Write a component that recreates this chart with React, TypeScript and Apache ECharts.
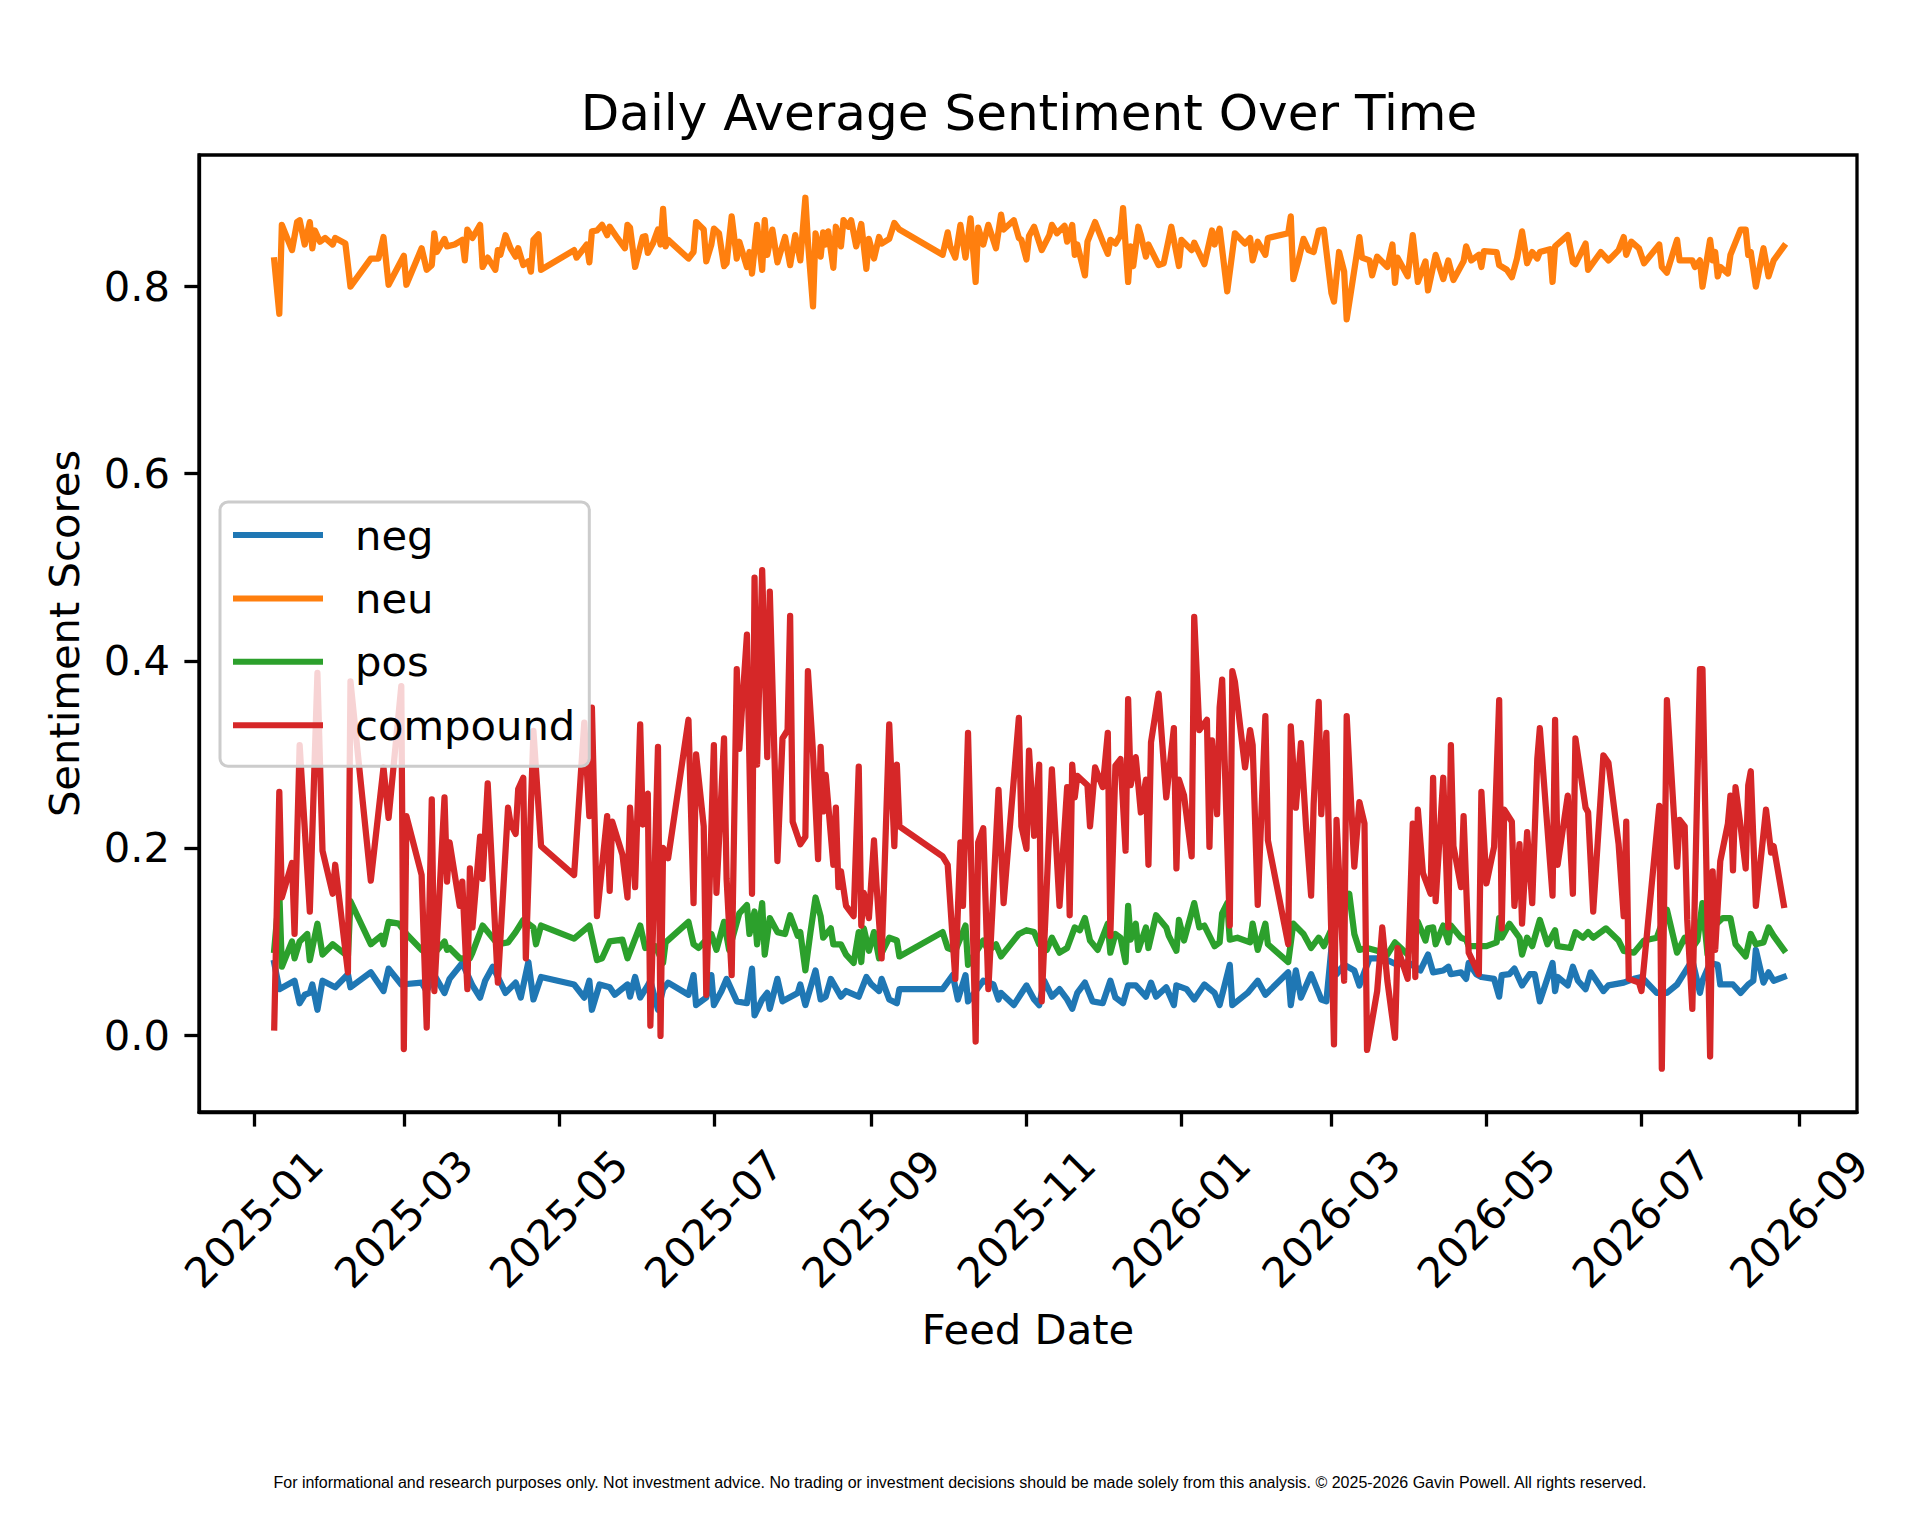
import React, { useEffect, useRef } from 'react';
import * as echarts from 'echarts';

// x values are days after 2025-01-01, y values are the daily average scores
const negPoints: [number, number][] = [
  [8, 0.077], [10, 0.049], [16, 0.058], [18, 0.034], [20, 0.043], [22, 0.045], [23, 0.054], [25, 0.027],
  [27, 0.058], [32, 0.051], [37, 0.065], [38, 0.051], [46, 0.067], [51, 0.047], [53, 0.071], [58, 0.054],
  [66, 0.056], [68, 0.047], [71, 0.064], [75, 0.045], [77, 0.06], [82, 0.077], [86, 0.053], [89, 0.04],
  [91, 0.058], [94, 0.073], [99, 0.045], [103, 0.056], [105, 0.04], [108, 0.078], [110, 0.038], [113, 0.062],
  [126, 0.054], [130, 0.04], [132, 0.058], [133, 0.027], [136, 0.054], [140, 0.051], [142, 0.043], [147, 0.054],
  [148, 0.041], [150, 0.062], [152, 0.04], [155, 0.053], [156, 0.058], [159, 0.027], [161, 0.049], [163, 0.056],
  [171, 0.043], [173, 0.064], [174, 0.032], [178, 0.04], [180, 0.064], [181, 0.032], [184, 0.047], [186, 0.06],
  [190, 0.036], [194, 0.034], [196, 0.071], [197, 0.021], [200, 0.038], [202, 0.045], [203, 0.028], [206, 0.06],
  [208, 0.036], [214, 0.045], [215, 0.054], [217, 0.032], [221, 0.069], [223, 0.038], [225, 0.041], [227, 0.06],
  [231, 0.041], [233, 0.047], [238, 0.041], [241, 0.062], [243, 0.054], [246, 0.047], [247, 0.06], [250, 0.038],
  [253, 0.034], [254, 0.049], [271, 0.049], [275, 0.064], [277, 0.038], [280, 0.064], [281, 0.036], [284, 0.047],
  [287, 0.058], [291, 0.054], [293, 0.038], [294, 0.045], [299, 0.032], [304, 0.053], [307, 0.038], [309, 0.032],
  [311, 0.058], [314, 0.041], [317, 0.049], [320, 0.038], [322, 0.028], [324, 0.045], [327, 0.056], [330, 0.036],
  [334, 0.034], [337, 0.058], [339, 0.04], [342, 0.034], [344, 0.053], [347, 0.053], [351, 0.041], [353, 0.056],
  [355, 0.041], [359, 0.051], [362, 0.032], [363, 0.053], [367, 0.049], [370, 0.038], [374, 0.054], [378, 0.045],
  [380, 0.032], [384, 0.075], [385, 0.032], [391, 0.045], [395, 0.058], [398, 0.043], [407, 0.067], [408, 0.032],
  [410, 0.069], [412, 0.04], [416, 0.065], [420, 0.038], [422, 0.036], [424, 0.093], [426, 0.065], [429, 0.075],
  [433, 0.069], [435, 0.053], [439, 0.082], [442, 0.082], [446, 0.08], [450, 0.075], [454, 0.078], [459, 0.069],
  [462, 0.086], [464, 0.067], [468, 0.069], [470, 0.073], [471, 0.065], [475, 0.067], [477, 0.06], [478, 0.077],
  [481, 0.065], [483, 0.062], [488, 0.06], [490, 0.041], [491, 0.064], [494, 0.065], [496, 0.071], [499, 0.053],
  [502, 0.065], [504, 0.065], [506, 0.036], [511, 0.077], [512, 0.047], [513, 0.062], [517, 0.053], [519, 0.073],
  [521, 0.058], [524, 0.049], [526, 0.067], [531, 0.047], [533, 0.053], [539, 0.056], [543, 0.06], [546, 0.062],
  [552, 0.045], [556, 0.045], [560, 0.054], [563, 0.067], [566, 0.08], [569, 0.045], [570, 0.058], [573, 0.077],
  [576, 0.075], [577, 0.054], [582, 0.054], [585, 0.045], [588, 0.054], [590, 0.058], [591, 0.091], [594, 0.056],
  [596, 0.067], [598, 0.058], [602, 0.062]
];

const neuPoints: [number, number][] = [
  [8, 0.828], [10, 0.771], [11, 0.866], [15, 0.839], [17, 0.869], [18, 0.871], [20, 0.845], [22, 0.869],
  [23, 0.841], [24, 0.86], [26, 0.848], [28, 0.852], [31, 0.845], [32, 0.852], [36, 0.846], [38, 0.8],
  [46, 0.83], [49, 0.83], [51, 0.853], [53, 0.802], [59, 0.833], [60, 0.802], [66, 0.841], [68, 0.818],
  [70, 0.823], [71, 0.857], [72, 0.837], [75, 0.851], [76, 0.843], [79, 0.845], [82, 0.85], [83, 0.828],
  [84, 0.861], [86, 0.852], [89, 0.866], [90, 0.821], [92, 0.831], [95, 0.818], [96, 0.839], [97, 0.834],
  [99, 0.855], [101, 0.841], [103, 0.832], [104, 0.841], [106, 0.823], [108, 0.827], [109, 0.816], [110, 0.85],
  [112, 0.856], [113, 0.818], [126, 0.839], [127, 0.831], [131, 0.845], [132, 0.826], [133, 0.859], [135, 0.86],
  [137, 0.866], [139, 0.855], [140, 0.864], [143, 0.852], [146, 0.841], [147, 0.866], [148, 0.863], [150, 0.821],
  [153, 0.853], [154, 0.854], [155, 0.836], [157, 0.846], [159, 0.861], [160, 0.845], [161, 0.883], [162, 0.843],
  [163, 0.85], [171, 0.83], [173, 0.837], [174, 0.869], [177, 0.861], [178, 0.827], [180, 0.845], [181, 0.862],
  [183, 0.857], [185, 0.822], [186, 0.825], [188, 0.875], [190, 0.83], [191, 0.848], [194, 0.821], [195, 0.837],
  [196, 0.814], [198, 0.866], [200, 0.818], [201, 0.871], [202, 0.834], [204, 0.861], [206, 0.826], [209, 0.853],
  [211, 0.823], [213, 0.855], [215, 0.828], [217, 0.895], [218, 0.848], [220, 0.779], [221, 0.857], [223, 0.832],
  [224, 0.858], [225, 0.845], [226, 0.859], [228, 0.82], [229, 0.864], [231, 0.843], [232, 0.871], [234, 0.864],
  [235, 0.871], [237, 0.843], [239, 0.867], [241, 0.819], [242, 0.851], [244, 0.83], [246, 0.853], [247, 0.846],
  [250, 0.851], [252, 0.868], [254, 0.861], [271, 0.834], [273, 0.858], [274, 0.843], [276, 0.831], [278, 0.866],
  [280, 0.831], [282, 0.873], [284, 0.805], [285, 0.863], [287, 0.845], [289, 0.866], [292, 0.841], [294, 0.877],
  [295, 0.861], [299, 0.871], [301, 0.852], [302, 0.85], [304, 0.829], [305, 0.854], [307, 0.864], [310, 0.839],
  [313, 0.855], [314, 0.866], [316, 0.857], [319, 0.865], [320, 0.848], [322, 0.866], [323, 0.834], [324, 0.845],
  [327, 0.812], [328, 0.848], [331, 0.869], [334, 0.848], [336, 0.835], [337, 0.85], [339, 0.846], [341, 0.855],
  [342, 0.884], [344, 0.805], [345, 0.843], [346, 0.822], [348, 0.864], [349, 0.855], [351, 0.832], [352, 0.845],
  [356, 0.823], [358, 0.825], [361, 0.864], [364, 0.822], [365, 0.85], [369, 0.839], [370, 0.847], [374, 0.824],
  [377, 0.86], [378, 0.845], [380, 0.862], [383, 0.795], [386, 0.857], [390, 0.846], [392, 0.852], [393, 0.828],
  [395, 0.848], [398, 0.834], [399, 0.852], [407, 0.857], [408, 0.875], [409, 0.808], [411, 0.828], [413, 0.851],
  [415, 0.839], [417, 0.837], [419, 0.86], [421, 0.861], [424, 0.793], [425, 0.784], [427, 0.837], [429, 0.816],
  [430, 0.765], [435, 0.853], [436, 0.831], [439, 0.828], [440, 0.812], [442, 0.832], [446, 0.821], [448, 0.845],
  [449, 0.804], [450, 0.831], [454, 0.811], [456, 0.855], [458, 0.805], [461, 0.827], [462, 0.796], [465, 0.834],
  [468, 0.808], [470, 0.828], [472, 0.807], [476, 0.827], [477, 0.843], [479, 0.828], [482, 0.834], [483, 0.821],
  [484, 0.838], [489, 0.837], [490, 0.823], [493, 0.818], [495, 0.81], [497, 0.83], [499, 0.859], [501, 0.825],
  [503, 0.837], [505, 0.83], [506, 0.837], [510, 0.84], [511, 0.805], [512, 0.843], [517, 0.855], [519, 0.826],
  [520, 0.824], [524, 0.846], [525, 0.818], [530, 0.837], [533, 0.828], [537, 0.839], [539, 0.853], [540, 0.834],
  [542, 0.848], [545, 0.841], [547, 0.825], [553, 0.845], [554, 0.821], [556, 0.815], [560, 0.85], [561, 0.828],
  [566, 0.828], [567, 0.821], [569, 0.828], [570, 0.8], [573, 0.85], [574, 0.828], [575, 0.837], [576, 0.811],
  [577, 0.821], [580, 0.814], [581, 0.834], [585, 0.861], [587, 0.861], [588, 0.834], [589, 0.837], [591, 0.8],
  [594, 0.841], [596, 0.811], [598, 0.828], [602, 0.843]
];

const posPoints: [number, number][] = [
  [8, 0.091], [10, 0.152], [11, 0.073], [15, 0.1], [16, 0.082], [18, 0.1], [21, 0.108], [22, 0.08],
  [25, 0.119], [27, 0.086], [31, 0.097], [37, 0.084], [38, 0.143], [46, 0.097], [50, 0.106], [51, 0.097],
  [53, 0.121], [57, 0.119], [60, 0.108], [66, 0.091], [70, 0.084], [75, 0.1], [76, 0.091], [77, 0.093],
  [81, 0.082], [85, 0.082], [86, 0.088], [90, 0.117], [96, 0.097], [100, 0.099], [103, 0.11], [106, 0.123],
  [110, 0.115], [111, 0.097], [113, 0.117], [126, 0.103], [132, 0.117], [135, 0.08], [137, 0.082], [140, 0.1],
  [145, 0.102], [147, 0.082], [152, 0.117], [154, 0.093], [158, 0.095], [161, 0.077], [162, 0.099], [171, 0.121],
  [173, 0.097], [175, 0.093], [180, 0.108], [182, 0.091], [185, 0.121], [187, 0.091], [191, 0.13], [194, 0.139],
  [195, 0.108], [197, 0.132], [198, 0.097], [200, 0.141], [201, 0.086], [203, 0.125], [206, 0.11], [209, 0.108],
  [211, 0.128], [214, 0.106], [215, 0.11], [217, 0.069], [219, 0.11], [221, 0.147], [223, 0.127], [224, 0.104],
  [227, 0.114], [228, 0.097], [231, 0.097], [233, 0.086], [236, 0.077], [238, 0.11], [239, 0.078], [240, 0.114],
  [242, 0.09], [244, 0.11], [246, 0.082], [250, 0.104], [253, 0.101], [254, 0.084], [271, 0.11], [273, 0.093],
  [276, 0.09], [280, 0.117], [281, 0.075], [287, 0.101], [289, 0.09], [292, 0.097], [294, 0.084], [301, 0.108],
  [304, 0.112], [307, 0.11], [309, 0.097], [312, 0.091], [314, 0.104], [317, 0.088], [320, 0.093], [323, 0.115],
  [325, 0.112], [327, 0.125], [329, 0.101], [332, 0.091], [336, 0.119], [337, 0.088], [339, 0.108], [341, 0.104],
  [343, 0.078], [344, 0.138], [345, 0.102], [347, 0.119], [348, 0.091], [351, 0.115], [352, 0.093], [355, 0.128],
  [359, 0.115], [360, 0.106], [363, 0.09], [364, 0.123], [366, 0.101], [370, 0.141], [372, 0.115], [374, 0.117],
  [378, 0.095], [380, 0.099], [381, 0.13], [383, 0.141], [384, 0.102], [387, 0.104], [392, 0.099], [393, 0.119],
  [395, 0.091], [398, 0.119], [399, 0.097], [407, 0.078], [409, 0.119], [413, 0.108], [416, 0.093], [419, 0.104],
  [421, 0.095], [425, 0.119], [431, 0.151], [433, 0.108], [435, 0.091], [438, 0.093], [442, 0.09], [446, 0.086],
  [449, 0.099], [454, 0.086], [458, 0.121], [461, 0.101], [462, 0.114], [464, 0.115], [465, 0.097], [468, 0.117],
  [470, 0.099], [471, 0.117], [475, 0.104], [477, 0.102], [478, 0.095], [483, 0.095], [485, 0.095], [489, 0.099],
  [490, 0.125], [491, 0.104], [494, 0.119], [498, 0.104], [499, 0.086], [501, 0.104], [503, 0.095], [506, 0.123],
  [509, 0.097], [512, 0.112], [513, 0.095], [518, 0.093], [520, 0.11], [523, 0.104], [525, 0.11], [527, 0.104],
  [532, 0.114], [537, 0.101], [539, 0.09], [543, 0.088], [547, 0.101], [552, 0.104], [556, 0.134], [560, 0.088],
  [563, 0.104], [566, 0.093], [568, 0.101], [570, 0.141], [572, 0.086], [574, 0.115], [578, 0.125], [581, 0.125],
  [583, 0.097], [587, 0.084], [589, 0.108], [591, 0.097], [594, 0.099], [596, 0.115], [598, 0.106], [602, 0.091]
];

const compoundPoints: [number, number][] = [
  [8, 0.008], [10, 0.26], [11, 0.147], [15, 0.184], [16, 0.108], [18, 0.31], [22, 0.132], [25, 0.387],
  [27, 0.197], [31, 0.151], [32, 0.182], [37, 0.067], [38, 0.378], [46, 0.165], [51, 0.286], [53, 0.232],
  [58, 0.373], [59, -0.015], [60, 0.234], [66, 0.171], [68, 0.008], [70, 0.252], [71, 0.047], [75, 0.254],
  [76, 0.164], [77, 0.206], [81, 0.138], [82, 0.164], [84, 0.049], [85, 0.178], [86, 0.115], [89, 0.212],
  [90, 0.167], [92, 0.269], [96, 0.056], [100, 0.243], [101, 0.226], [103, 0.215], [104, 0.263], [106, 0.275],
  [107, 0.082], [110, 0.325], [113, 0.202], [126, 0.171], [130, 0.334], [132, 0.234], [133, 0.35], [135, 0.127],
  [139, 0.234], [140, 0.154], [141, 0.228], [145, 0.193], [147, 0.147], [148, 0.243], [150, 0.158], [152, 0.332],
  [153, 0.225], [155, 0.258], [156, 0.01], [159, 0.308], [160, -0.001], [161, 0.2], [163, 0.189], [171, 0.337],
  [173, 0.141], [174, 0.3], [177, 0.223], [178, 0.043], [181, 0.31], [182, 0.152], [185, 0.317], [186, 0.167],
  [188, 0.064], [190, 0.391], [191, 0.306], [194, 0.428], [196, 0.151], [197, 0.489], [198, 0.289], [200, 0.497],
  [202, 0.297], [203, 0.474], [206, 0.186], [208, 0.317], [210, 0.326], [211, 0.448], [212, 0.228], [215, 0.204],
  [217, 0.212], [218, 0.389], [220, 0.302], [222, 0.188], [223, 0.308], [224, 0.239], [225, 0.278], [228, 0.182],
  [229, 0.243], [230, 0.158], [231, 0.175], [233, 0.138], [236, 0.127], [238, 0.287], [239, 0.117], [240, 0.152],
  [242, 0.125], [244, 0.208], [245, 0.16], [247, 0.082], [250, 0.332], [252, 0.202], [253, 0.289], [254, 0.223],
  [271, 0.191], [273, 0.182], [276, 0.06], [278, 0.206], [279, 0.138], [281, 0.323], [284, -0.007], [285, 0.206],
  [287, 0.221], [289, 0.049], [293, 0.262], [295, 0.141], [301, 0.339], [302, 0.223], [304, 0.199], [305, 0.304],
  [307, 0.213], [309, 0.289], [310, 0.036], [314, 0.284], [317, 0.138], [320, 0.265], [321, 0.128], [322, 0.289],
  [323, 0.254], [324, 0.277], [328, 0.267], [329, 0.223], [331, 0.286], [334, 0.265], [336, 0.323], [337, 0.106],
  [339, 0.288], [341, 0.295], [343, 0.197], [344, 0.359], [345, 0.267], [347, 0.297], [349, 0.238], [351, 0.273],
  [352, 0.182], [353, 0.313], [356, 0.365], [359, 0.254], [362, 0.328], [363, 0.178], [364, 0.273], [366, 0.256],
  [369, 0.191], [370, 0.447], [372, 0.326], [375, 0.337], [376, 0.201], [377, 0.315], [379, 0.236], [380, 0.35],
  [381, 0.38], [384, 0.117], [385, 0.389], [386, 0.378], [390, 0.286], [392, 0.326], [393, 0.31], [395, 0.139],
  [398, 0.341], [399, 0.208], [407, 0.097], [408, 0.33], [410, 0.243], [412, 0.312], [414, 0.223], [416, 0.149],
  [417, 0.247], [419, 0.356], [420, 0.236], [422, 0.323], [425, -0.01], [426, 0.23], [429, 0.058], [430, 0.341],
  [433, 0.18], [435, 0.249], [437, 0.226], [438, -0.016], [442, 0.047], [444, 0.115], [446, 0.058], [449, -0.003],
  [450, 0.093], [454, 0.06], [456, 0.226], [457, 0.062], [458, 0.241], [460, 0.173], [463, 0.151], [464, 0.275],
  [465, 0.143], [468, 0.275], [470, 0.115], [471, 0.31], [472, 0.202], [475, 0.158], [476, 0.234], [478, 0.088],
  [482, 0.065], [483, 0.26], [485, 0.162], [488, 0.201], [490, 0.358], [491, 0.114], [492, 0.241], [495, 0.228],
  [496, 0.138], [498, 0.204], [499, 0.119], [501, 0.217], [503, 0.141], [505, 0.295], [506, 0.328], [511, 0.149],
  [512, 0.337], [513, 0.182], [515, 0.219], [517, 0.256], [519, 0.151], [520, 0.317], [524, 0.243], [525, 0.238],
  [527, 0.132], [531, 0.299], [533, 0.291], [537, 0.204], [539, 0.127], [540, 0.228], [541, 0.06], [545, 0.056],
  [546, 0.047], [553, 0.245], [554, -0.036], [556, 0.358], [560, 0.18], [561, 0.23], [563, 0.223], [564, 0.123],
  [566, 0.028], [569, 0.391], [570, 0.391], [573, -0.023], [574, 0.175], [575, 0.091], [577, 0.186], [580, 0.226],
  [581, 0.256], [582, 0.176], [583, 0.265], [585, 0.223], [587, 0.178], [588, 0.267], [589, 0.282], [591, 0.138],
  [595, 0.241], [597, 0.195], [598, 0.202], [602, 0.139]
];

const seriesNames = ['neg', 'neu', 'pos', 'compound'];
const seriesColors = ['#1f77b4', '#ff7f0e', '#2ca02c', '#d62728'];
const seriesPoints = [negPoints, neuPoints, posPoints, compoundPoints];

const monthTicks = [
  '2025-01', '2025-03', '2025-05', '2025-07', '2025-09', '2025-11',
  '2026-01', '2026-03', '2026-05', '2026-07', '2026-09'
];
const scoreTicks = [0, 0.2, 0.4, 0.6, 0.8];

const titleText = 'Daily Average Sentiment Over Time';
const footerText =
  'For informational and research purposes only. Not investment advice. No trading or investment decisions should be made solely from this analysis. © 2025-2026 Gavin Powell. All rights reserved.';

const DAY_MS = 86400000;
const START = Date.UTC(2025, 0, 1);
const toTime = (day: number) => START + day * DAY_MS;
const monthToTime = (m: string) => {
  const [y, mo] = m.split('-').map(Number);
  return Date.UTC(y, mo - 1, 1);
};
const formatMonth = (v: number) => {
  const d = new Date(v);
  return `${d.getUTCFullYear()}-${String(d.getUTCMonth() + 1).padStart(2, '0')}`;
};

const FONT = '"DejaVu Sans", Verdana, sans-serif';

const SentimentChart: React.FC = () => {
  const chartRef = useRef<HTMLDivElement>(null);

  useEffect(() => {
    document.body.style.margin = '0';
    if (!chartRef.current) return;

    const chart = echarts.init(chartRef.current, null, { renderer: 'svg' });
    const tickTimes = monthTicks.map(monthToTime);

    const option: any = {
      animation: false,
      backgroundColor: '#ffffff',
      textStyle: { fontFamily: FONT },
      grid: {
        left: 199,
        right: 63,
        top: 155,
        bottom: 408,
        show: true,
        borderColor: '#000',
        borderWidth: 3.3,
        backgroundColor: 'transparent',
        containLabel: false,
        outerBoundsMode: 'none'
      },
      legend: {
        data: seriesNames,
        orient: 'vertical',
        left: 220,
        top: 502,
        z: 10,
        icon: 'rect',
        itemWidth: 90,
        itemHeight: 6,
        itemGap: 21.4,
        padding: [12, 14, 20, 13],
        backgroundColor: 'rgba(255,255,255,0.8)',
        borderColor: '#cccccc',
        borderWidth: 3,
        borderRadius: 8,
        textStyle: {
          fontFamily: FONT,
          fontSize: 41.7,
          lineHeight: 42,
          color: '#000',
          padding: [0, 0, 0, 27]
        }
      },
      xAxis: {
        // dates as UTC milliseconds on a plain numeric axis
        type: 'value',
        min: toTime(-21.6),
        max: toTime(630.8),
        name: 'Feed Date',
        nameLocation: 'middle',
        nameGap: 196,
        nameMoveOverlap: false,
        nameTextStyle: { fontFamily: FONT, fontSize: 41.7, color: '#000' },
        axisLine: { show: true, onZero: false, lineStyle: { color: '#000', width: 3.3 } },
        axisTick: { show: true, length: 14.6, lineStyle: { color: '#000', width: 3.3 }, customValues: tickTimes },
        axisLabel: {
          customValues: tickTimes,
          formatter: (v: number) => formatMonth(v),
          rotate: 45,
          align: 'center',
          verticalAlign: 'middle',
          margin: 107,
          fontFamily: FONT,
          fontSize: 41.7,
          color: '#000'
        },
        splitLine: { show: false }
      },
      yAxis: {
        type: 'value',
        min: -0.0823,
        max: 0.9407,
        name: 'Sentiment Scores',
        nameLocation: 'middle',
        nameGap: 114,
        nameMoveOverlap: false,
        nameTextStyle: { fontFamily: FONT, fontSize: 41.7, color: '#000' },
        axisLine: { show: true, onZero: false, lineStyle: { color: '#000', width: 3.3 } },
        axisTick: { show: true, length: 14.6, lineStyle: { color: '#000', width: 3.3 }, customValues: scoreTicks },
        axisLabel: {
          customValues: scoreTicks,
          formatter: (v: number) => v.toFixed(1),
          margin: 29,
          fontFamily: FONT,
          fontSize: 41.7,
          color: '#000'
        },
        splitLine: { show: false }
      },
      series: seriesNames.map((name, i) => ({
        name,
        type: 'line',
        showSymbol: false,
        symbol: 'none',
        color: seriesColors[i],
        lineStyle: { color: seriesColors[i], width: 6.25, join: 'round', cap: 'square' },
        emphasis: { disabled: true },
        data: seriesPoints[i].map(([d, v]) => [toTime(d), v])
      })),
      graphic: [
        {
          type: 'text',
          x: 1029,
          y: 112.7,
          style: {
            text: titleText,
            font: `50px ${FONT}`,
            fill: '#000',
            align: 'center',
            verticalAlign: 'middle',
            textAlign: 'center',
            textVerticalAlign: 'middle'
          }
        },
        {
          type: 'text',
          x: 960,
          y: 1482,
          style: {
            text: footerText,
            font: '16px "Liberation Sans", Arial, sans-serif',
            fill: '#000',
            align: 'center',
            verticalAlign: 'middle',
            textAlign: 'center',
            textVerticalAlign: 'middle'
          }
        }
      ]
    };

    chart.setOption(option);

    return () => {
      chart.dispose();
    };
  }, []);

  return <div ref={chartRef} style={{ width: '1920px', height: '1520px' }} />;
};

export default function App() {
  return <SentimentChart />;
}
